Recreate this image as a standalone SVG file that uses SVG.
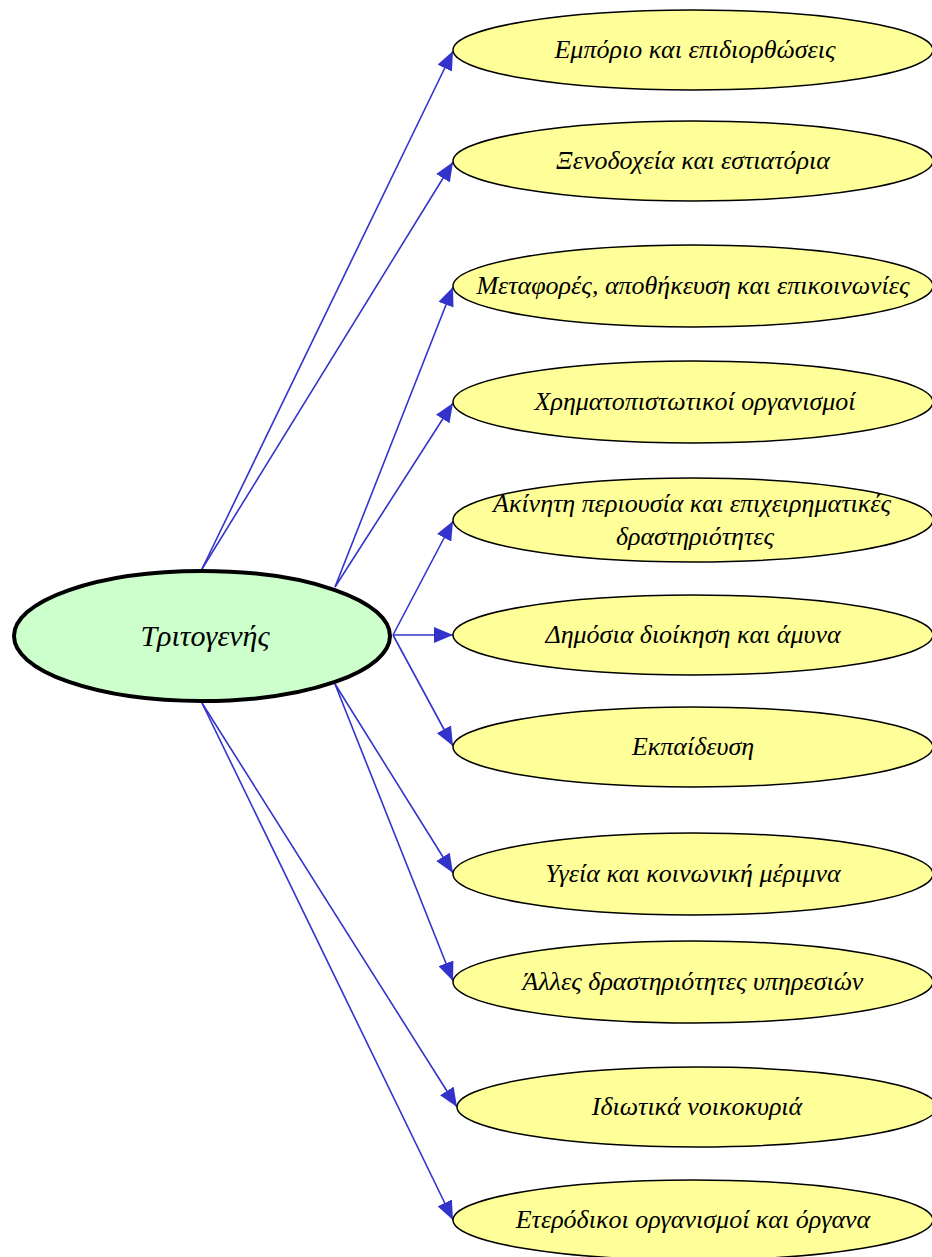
<svg xmlns="http://www.w3.org/2000/svg" width="932" height="1257" viewBox="0 0 932 1257">
<style>
.leaf ellipse{fill:#FFFF99;stroke:#000;stroke-width:1.5}
.root ellipse{fill:#CCFFCC;stroke:#000;stroke-width:4}
text{font-family:"Liberation Serif","DejaVu Serif",serif;font-style:italic;fill:#000;text-anchor:middle}
.leaf text{font-size:26px}
.root text{font-size:30px}
.edges line{stroke:#3333CC;stroke-width:1.6;marker-end:url(#ah)}
</style>
<defs>
<marker id="ah" markerUnits="userSpaceOnUse" markerWidth="20" markerHeight="16" refX="19" refY="8" orient="auto">
<path d="M0,0 L19,8 L0,16 Z" fill="#3333CC"/>
</marker>
</defs>
<rect width="932" height="1257" fill="#fff"/>
<g class="edges" id="connectors">
<line x1="202" y1="569" x2="453" y2="51"/>
<line x1="202" y1="569" x2="453" y2="162"/>
<line x1="335" y1="587" x2="453" y2="287"/>
<line x1="335" y1="587" x2="453" y2="403"/>
<line x1="393" y1="635" x2="453" y2="521"/>
<line x1="393" y1="635" x2="453" y2="635"/>
<line x1="393" y1="635" x2="453" y2="746"/>
<line x1="335" y1="684" x2="453" y2="873"/>
<line x1="335" y1="684" x2="453" y2="981"/>
<line x1="202" y1="703" x2="457" y2="1107"/>
<line x1="202" y1="703" x2="453" y2="1220"/>
</g>
<g class="root" id="n-root"><ellipse cx="202" cy="636" rx="188" ry="65"/><text x="205" y="646">Τριτογενής</text></g>
<g class="leaf" id="n1"><ellipse cx="693" cy="50" rx="240" ry="40"/><text x="695" y="58">Εμπόριο και επιδιορθώσεις</text></g>
<g class="leaf" id="n2"><ellipse cx="693" cy="161" rx="240" ry="40"/><text x="693" y="169">Ξενοδοχεία και εστιατόρια</text></g>
<g class="leaf" id="n3"><ellipse cx="693" cy="286" rx="240" ry="41"/><text x="693" y="294">Μεταφορές, αποθήκευση και επικοινωνίες</text></g>
<g class="leaf" id="n4"><ellipse cx="693" cy="402" rx="240" ry="41"/><text x="695" y="410">Χρηματοπιστωτικοί οργανισμοί</text></g>
<g class="leaf" id="n5"><ellipse cx="693" cy="520" rx="240" ry="42"/><text x="692" y="512">Ακίνητη περιουσία και επιχειρηματικές</text><text x="695" y="545">δραστηριότητες</text></g>
<g class="leaf" id="n6"><ellipse cx="693" cy="635" rx="240" ry="40"/><text x="693" y="643">Δημόσια διοίκηση και άμυνα</text></g>
<g class="leaf" id="n7"><ellipse cx="693" cy="747" rx="240" ry="40"/><text x="693" y="755">Εκπαίδευση</text></g>
<g class="leaf" id="n8"><ellipse cx="693" cy="874" rx="240" ry="41"/><text x="693" y="882">Υγεία και κοινωνική μέριμνα</text></g>
<g class="leaf" id="n9"><ellipse cx="693" cy="982" rx="240" ry="41"/><text x="693" y="990">Άλλες δραστηριότητες υπηρεσιών</text></g>
<g class="leaf" id="n10"><ellipse cx="697" cy="1107" rx="240" ry="40"/><text x="697" y="1115">Ιδιωτικά νοικοκυριά</text></g>
<g class="leaf" id="n11"><ellipse cx="693" cy="1220" rx="240" ry="40"/><text x="693" y="1228">Ετερόδικοι οργανισμοί και όργανα</text></g>
</svg>
